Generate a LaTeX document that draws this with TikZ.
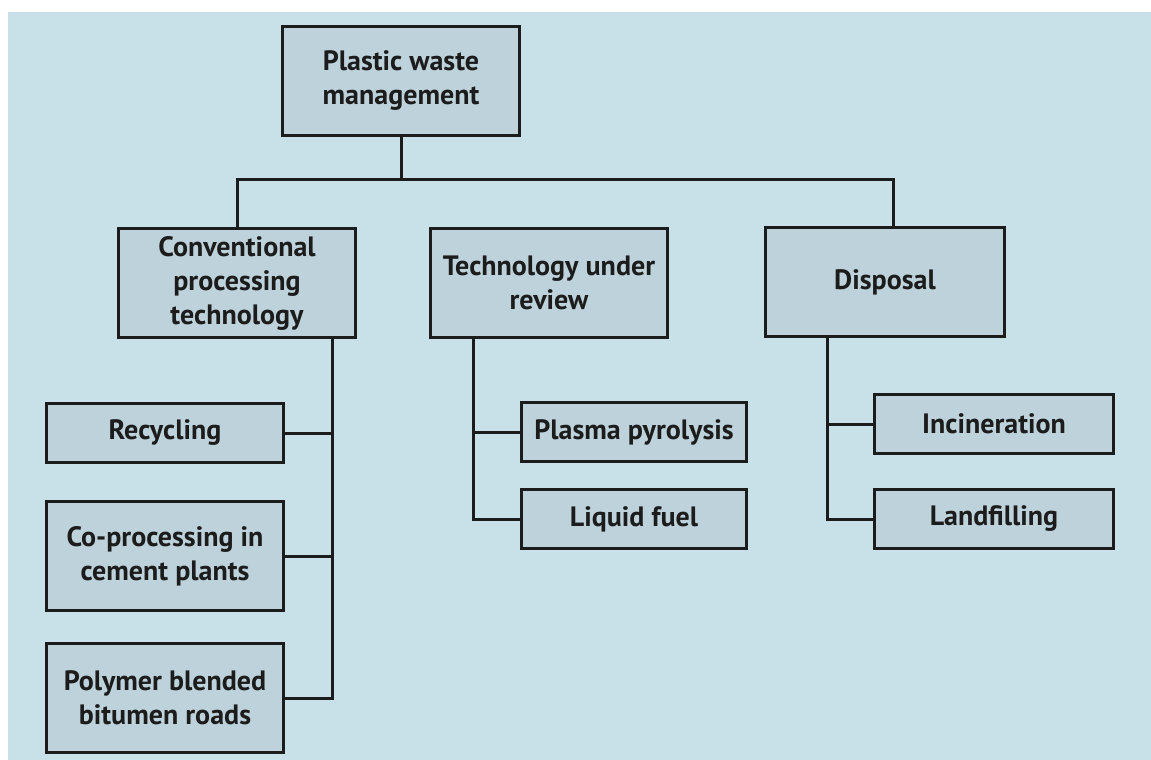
\documentclass[tikz,border=0pt]{standalone}
\usepackage{fontspec}
\setmainfont{PT Sans}
\usepackage{xcolor}
\usetikzlibrary{positioning}

\definecolor{paneblue}{RGB}{200,224,232}
\definecolor{boxblue}{RGB}{189,210,218}
\definecolor{inkgrey}{RGB}{28,28,28}

\begin{document}
\begin{tikzpicture}[x=1pt, y=-1pt, node distance=30pt and 40pt,
    box/.style={rectangle, draw=inkgrey, line width=3pt, fill=boxblue, text=inkgrey, align=center, inner sep=0pt, minimum width=237pt, font=\bfseries\fontsize{28}{34}\selectfont},
    tallbox/.style={box, minimum height=109pt},
    flatbox/.style={box, minimum height=59pt},
    link/.style={draw=inkgrey, line width=3pt}]
    \useasboundingbox (0,0) rectangle (1151,760);
    \fill[white] (0,0) rectangle (1151,760);
    \fill[paneblue] (8,12) rectangle (1151,760);

    \node (pwm) [tallbox] at (401,81) {Plastic waste\\management};

    \node (conv) [tallbox] at (237,283) {Conventional\\processing\\technology};
    \node (tech) [tallbox] at (549,283) {Technology under\\review};
    \node (disp) [tallbox, minimum width=239pt] at (885,282) {Disposal};

    \node (recyc) [flatbox] at (165,433) {Recycling};
    \node (coproc) [tallbox, below=36pt of recyc] {Co-processing in\\cement plants};
    \node (poly) [tallbox, below=30pt of coproc] {Polymer blended\\bitumen roads};

    \node (plasma) [flatbox, minimum width=225pt] at (634,432) {Plasma pyrolysis};
    \node (liquid) [flatbox, minimum width=225pt, below=25pt of plasma] {Liquid fuel};

    \node (incin) [flatbox, minimum width=239pt] at (994,424) {Incineration};
    \node (landf) [flatbox, minimum width=239pt, below=33pt of incin] {Landfilling};

    % top level
    \coordinate (split) at (pwm.south |- 0,179);
    \draw [link] (pwm) -- (split);
    \draw [link] (conv.north) |- (split) -| ([xshift=8pt]disp.north);

    % conventional branch
    \coordinate (ctrunk) at ([xshift=95pt]conv.south);
    \draw [link] (ctrunk) |- (poly);
    \draw [link] (recyc) -- (recyc -| ctrunk);
    \draw [link] (coproc) -- (coproc -| ctrunk);

    % under review branch
    \coordinate (ttrunk) at ([xshift=-76pt]tech.south);
    \draw [link] (ttrunk) |- (liquid);
    \draw [link] (plasma) -- (plasma -| ttrunk);

    % disposal branch
    \coordinate (dtrunk) at ([xshift=-58pt]disp.south);
    \draw [link] (dtrunk) |- (landf);
    \draw [link] (incin) -- (incin -| dtrunk);
\end{tikzpicture}
\end{document}
